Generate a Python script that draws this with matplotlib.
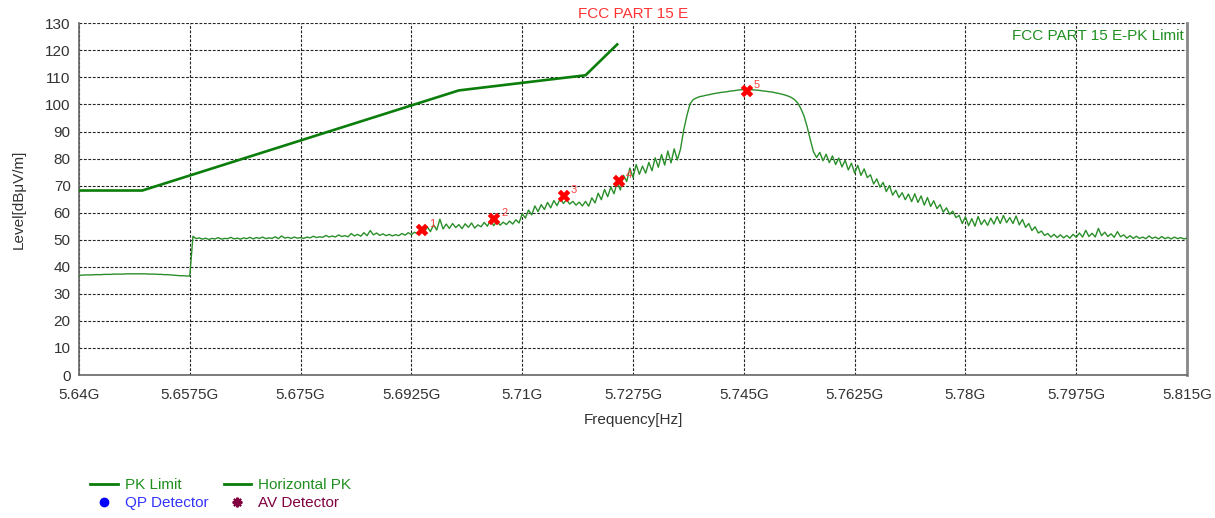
import numpy as np
import matplotlib
matplotlib.use('Agg')
import matplotlib.pyplot as plt
from matplotlib.lines import Line2D

plt.rcParams['font.family'] = ['Liberation Sans', 'DejaVu Sans']

# Measured trace, 0.5 MHz steps from 5.640 GHz to 5.815 GHz (dBuV/m)
level = [
    36.9, 36.9, 37.0, 37.0, 37.0, 37.1, 37.1, 37.1, 37.2, 37.2,
    37.2, 37.3, 37.3, 37.3, 37.3, 37.4, 37.4, 37.4, 37.4, 37.4,
    37.4, 37.4, 37.3, 37.3, 37.3, 37.2, 37.2, 37.1, 37.1, 37.0,
    36.9, 36.8, 36.7, 36.7, 36.6, 36.6, 51.3, 50.4, 50.7, 50.2,
    50.6, 50.1, 50.5, 50.3, 50.8, 50.2, 50.5, 50.4, 50.9, 50.3,
    50.6, 50.2, 50.7, 50.4, 50.9, 50.3, 50.8, 50.5, 51.0, 50.4,
    50.7, 50.5, 51.1, 50.4, 51.4, 50.6, 50.9, 50.5, 51.0, 50.6,
    50.8, 50.5, 51.0, 50.7, 51.3, 50.8, 51.1, 50.9, 51.6, 51.0,
    51.4, 51.0, 51.8, 51.2, 51.5, 51.1, 52.3, 51.4, 52.0, 51.3,
    52.6, 51.5, 53.4, 51.8, 52.5, 51.6, 52.2, 51.5, 52.0, 51.4,
    51.9, 51.5, 52.3, 51.7, 52.6, 51.9, 52.8, 52.1, 53.5, 52.4,
    54.8, 53.0, 55.5, 53.6, 57.6, 54.0, 55.8, 54.2, 56.0, 54.5,
    55.6, 54.1, 55.9, 54.6, 56.2, 54.3, 55.5, 54.8, 56.4, 55.0,
    57.3, 55.2, 56.8, 55.4, 56.5, 55.6, 56.9, 55.8, 57.4, 56.2,
    59.6, 58.0, 61.0, 59.2, 62.5, 60.4, 63.0, 61.2, 63.8, 61.8,
    64.5, 62.6, 65.2, 63.4, 64.8, 63.2, 64.2, 62.8, 63.9, 62.5,
    64.2, 62.4, 65.5, 63.6, 67.2, 64.8, 68.6, 65.9, 69.5, 67.0,
    71.2, 68.4, 73.8, 71.5, 76.5, 73.0, 77.8, 74.2, 77.2, 74.6,
    78.6, 75.5, 80.3, 76.8, 81.5, 77.6, 82.8, 78.4, 83.6, 79.5,
    83.5, 90.5, 95.8, 100.2, 101.8, 102.4, 102.9, 103.1, 103.4, 103.6,
    103.9, 104.1, 104.3, 104.5, 104.6, 104.8, 105.0, 105.1, 105.3, 105.4,
    105.5, 105.6, 105.5, 105.4, 105.3, 105.2, 105.0, 104.9, 104.7, 104.6,
    104.3, 104.1, 103.8, 103.5, 103.1, 102.6, 101.8, 100.6, 98.5, 95.8,
    91.8, 87.0, 82.5, 80.4, 82.3, 79.2, 81.6, 78.5, 81.0, 77.8,
    80.2, 76.9, 79.4, 75.8, 78.3, 74.6, 77.5, 73.8, 76.2, 73.0,
    74.0, 70.6, 72.5, 69.4, 71.2, 67.8, 70.0, 66.5, 68.3, 65.6,
    67.4, 64.8, 66.9, 64.1, 67.0, 63.8, 66.2, 62.8, 65.6, 62.3,
    64.4, 61.5, 63.0, 60.2, 61.8, 59.4, 60.6, 58.2, 59.0, 56.0,
    58.5, 55.2, 57.8, 55.0, 58.6, 55.6, 57.4, 55.3, 58.0, 55.8,
    58.6, 56.0, 59.0, 56.3, 58.2, 56.0, 58.8, 55.5, 57.5, 54.6,
    56.0, 53.4, 54.8, 52.5, 53.2, 51.6, 52.3, 51.0, 52.0, 50.8,
    51.8, 50.7, 51.6, 50.6, 52.0, 50.9, 52.5, 51.0, 53.5, 51.2,
    52.4, 51.0, 54.2, 51.5, 52.8, 51.2, 52.2, 50.9, 53.0, 51.1,
    51.8, 50.6, 51.5, 50.5, 51.3, 50.5, 51.0, 50.4, 51.4, 50.5,
    51.0, 50.3, 51.2, 50.4, 50.9, 50.3, 51.0, 50.4, 50.8, 50.3,
    50.6,
]
freq = np.linspace(5.640, 5.815, len(level))  # GHz

# FCC Part 15 E peak limit
limit_f = [5.640, 5.650, 5.700, 5.720, 5.725]
limit_lv = [68.2, 68.2, 105.2, 110.8, 122.2]

# Marked peaks
mark_no = ['1', '2', '3', '4', '5']
mark_f = [5.6942, 5.7056, 5.7166, 5.7253, 5.7455]
mark_lv = [53.7, 57.7, 66.2, 71.8, 104.9]

xticks = [5.64, 5.6575, 5.675, 5.6925, 5.71, 5.7275, 5.745, 5.7625, 5.78, 5.7975, 5.815]
xtick_labels = ['5.64G', '5.6575G', '5.675G', '5.6925G', '5.71G', '5.7275G',
                '5.745G', '5.7625G', '5.78G', '5.7975G', '5.815G']
yticks = list(range(0, 131, 10))

fig = plt.figure(figsize=(12.15, 5.18), dpi=100)
ax = fig.add_axes([0.065, 0.276, 0.912, 0.679])

ax.plot(limit_f, limit_lv, color='#0a7d0a', lw=1.9, zorder=3)
ax.plot(freq, level, color='#2a8f2a', lw=1.0, zorder=4)
ax.plot(mark_f, mark_lv, 'X', color='red', markersize=9, zorder=5, markeredgewidth=0.3)
for n, f, lv in zip(mark_no, mark_f, mark_lv):
    ax.annotate(n, (f, lv), xytext=(5, 2), textcoords='offset points',
                color='#ff4040', fontsize=8, zorder=6)

ax.set_xlim(5.64, 5.815)
ax.set_ylim(0, 130)
ax.set_xticks(xticks)
ax.set_xticklabels(xtick_labels)
ax.set_yticks(yticks)
ax.tick_params(labelsize=11, colors='#333333', length=0, pad=6)
ax.tick_params(axis='x', pad=9)
ax.grid(True, color='#222222', linestyle=(0, (2.5, 1.5)), linewidth=0.8)
ax.set_axisbelow(True)

for s in ['left', 'bottom']:
    ax.spines[s].set_color('#666666')
    ax.spines[s].set_linewidth(1.2)
ax.spines['right'].set_color('#888888')
ax.spines['right'].set_linewidth(2)
ax.spines['top'].set_visible(False)

ax.set_title('FCC PART 15 E', color='#ff3333', fontsize=11, pad=4)
ax.text(0.997, 0.985, 'FCC PART 15 E-PK Limit', transform=ax.transAxes,
        ha='right', va='top', color='#1f8f1f', fontsize=11)
ax.set_xlabel('Frequency[Hz]', fontsize=11, color='#333333', labelpad=8)
ax.set_ylabel('Level[dB\u03bcV/m]', fontsize=11, color='#333333', labelpad=14)

handles = [
    Line2D([], [], color='#0a7d0a', lw=2),
    Line2D([], [], marker='o', color='#0000ff', ls='none', markersize=6),
    Line2D([], [], color='#0a7d0a', lw=2),
    Line2D([], [], marker=(8, 2, 0), color='#800040', ls='none', markersize=7, markeredgewidth=1.5),
]
labels = ['PK Limit', 'QP Detector', 'Horizontal PK', 'AV Detector']
fig.legend(handles, labels, ncol=2, loc='upper left', bbox_to_anchor=(0.063, 0.104),
           frameon=False, fontsize=11, handlelength=1.8, handletextpad=0.45,
           columnspacing=1.0, labelspacing=0.3,
           labelcolor=['#1f8f1f', '#3333ff', '#1f8f1f', '#800040'])

fig.savefig('out.png', dpi=100)
